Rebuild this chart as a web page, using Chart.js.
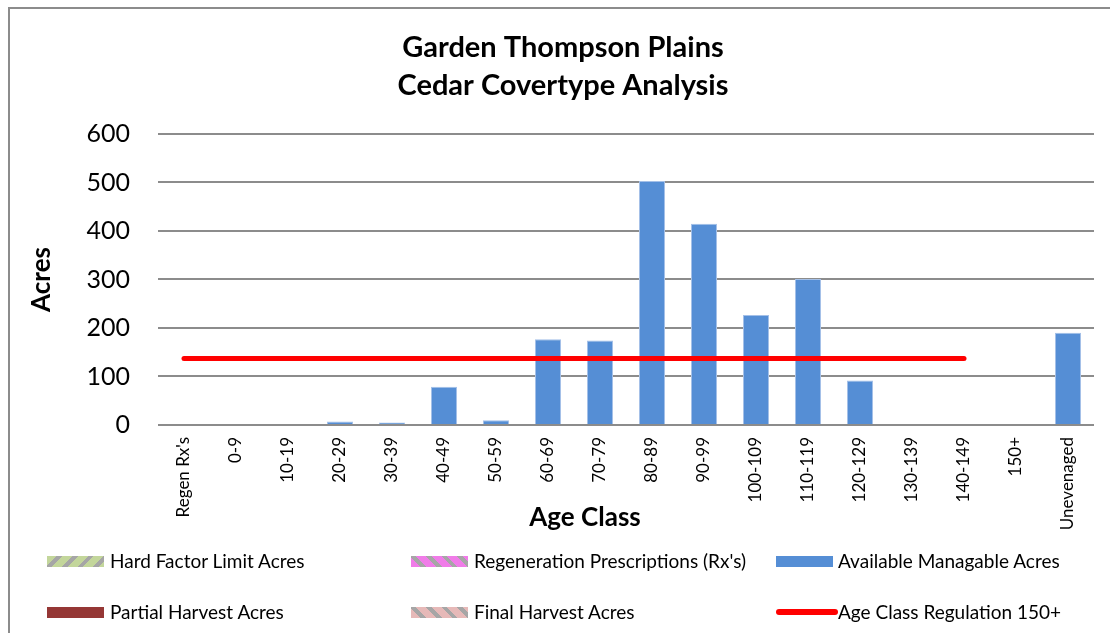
<!DOCTYPE html>
<html lang="en">
<head>
    <meta charset="UTF-8">
    <title>Garden Thompson Plains - Cedar Covertype Analysis</title>
    <script src="https://cdn.jsdelivr.net/npm/chart.js"></script>
    <style>
        html, body { margin: 0; padding: 0; width: 1110px; height: 633px; overflow: hidden; background: #fff; font-family: Lato, sans-serif; }
        .frame { position: absolute; left: 8px; top: 7px; width: 1200px; height: 700px; border: 2px solid #8c8c8c; box-sizing: border-box; }
        #wrap { position: absolute; left: 0; top: 0; width: 1110px; height: 633px; }
        .leg { position: absolute; font-size: 19px; color: #000; line-height: 22px; white-space: nowrap; }
        .sw { position: absolute; width: 57px; height: 11px; }
    </style>
</head>
<body>
    <div class="frame"></div>
    <div id="wrap"><canvas id="cedarChart"></canvas></div>

    <div class="sw" style="left:47px;top:556px;background:repeating-linear-gradient(135deg,#c3d69b 0 7px,#a6a6a6 7px 11px);"></div>
    <div class="leg" style="left:110px;top:550px;">Hard Factor Limit Acres</div>
    <div class="sw" style="left:411px;top:556px;background:repeating-linear-gradient(45deg,#f07ce8 0 7px,#a6a6a6 7px 11px);"></div>
    <div class="leg" style="left:474px;top:550px;">Regeneration Prescriptions (Rx's)</div>
    <div class="sw" style="left:776px;top:556px;background:#558ed5;"></div>
    <div class="leg" style="left:838px;top:550px;">Available Managable Acres</div>

    <div class="sw" style="left:47px;top:607px;background:#953735;"></div>
    <div class="leg" style="left:110px;top:601px;">Partial Harvest Acres</div>
    <div class="sw" style="left:411px;top:607px;background:repeating-linear-gradient(45deg,#e6b9b8 0 7px,#a6a6a6 7px 11px);"></div>
    <div class="leg" style="left:474px;top:601px;">Final Harvest Acres</div>
    <div class="sw" style="left:776px;top:609px;width:62px;height:6px;border-radius:3px;background:#ff0000;"></div>
    <div class="leg" style="left:838px;top:601px;">Age Class Regulation 150+</div>

    <script>
        const ageClasses = ["Regen Rx's", "0-9", "10-19", "20-29", "30-39", "40-49", "50-59", "60-69", "70-79",
            "80-89", "90-99", "100-109", "110-119", "120-129", "130-139", "140-149", "150+", "Unevenaged"];
        const hardFactorAcres = [0, 0, 0, 0, 0, 0, 0, 0, 0, 0, 0, 0, 0, 0, 0, 0, 0, 0];
        const regenRxAcres = [0, 0, 0, 0, 0, 0, 0, 0, 0, 0, 0, 0, 0, 0, 0, 0, 0, 0];
        const availableAcres = [0, 0, 0, 7, 5, 79, 10, 177, 174, 503, 415, 227, 301, 92, 0, 0, 0, 190];
        const partialHarvestAcres = [0, 0, 0, 0, 0, 0, 0, 0, 0, 0, 0, 0, 0, 0, 0, 0, 0, 0];
        const finalHarvestAcres = [0, 0, 0, 0, 0, 0, 0, 0, 0, 0, 0, 0, 0, 0, 0, 0, 0, 0];
        const regulation150 = [137, 137, 137, 137, 137, 137, 137, 137, 137, 137, 137, 137, 137, 137, 137, 137, null, null];
        const yTicks = [0, 100, 200, 300, 400, 500, 600];

        // x axis title sits where Excel put it, not centred on the plot
        const ageClassTitle = {
            id: "ageClassTitle",
            afterDraw(chart) {
                const ctx = chart.ctx;
                ctx.save();
                ctx.font = "bold 26px Lato";
                ctx.fillStyle = "#000";
                ctx.textAlign = "center";
                ctx.textBaseline = "middle";
                ctx.fillText("Age Class", 585, 518);
                ctx.restore();
            }
        };

        const bar = (label, data, color) => ({
            type: "bar", label, data, backgroundColor: color,
            borderColor: color, borderWidth: 0, stack: "acres", order: 1,
            barPercentage: 0.5, categoryPercentage: 1
        });

        const ctx = document.getElementById("cedarChart").getContext("2d");
        new Chart(ctx, {
            data: {
                labels: ageClasses,
                datasets: [
                    bar("Hard Factor Limit Acres", hardFactorAcres, "#c3d69b"),
                    bar("Regeneration Prescriptions (Rx's)", regenRxAcres, "#f07ce8"),
                    Object.assign(bar("Available Managable Acres", availableAcres, "#558ed5"),
                        { borderColor: "#a4c0e8", borderWidth: 1 }),
                    bar("Partial Harvest Acres", partialHarvestAcres, "#953735"),
                    bar("Final Harvest Acres", finalHarvestAcres, "#e6b9b8"),
                    {
                        type: "line", label: "Age Class Regulation 150+", data: regulation150,
                        borderColor: "#ff0000", borderWidth: 5, borderCapStyle: "round",
                        pointRadius: 0, fill: false, stack: "reg", order: 0, spanGaps: false
                    }
                ]
            },
            options: {
                responsive: true,
                maintainAspectRatio: false,
                animation: false,
                layout: { padding: { left: 32, right: 16, top: 29, bottom: 88 } },
                plugins: {
                    legend: { display: false },
                    tooltip: { enabled: false },
                    title: {
                        display: true,
                        text: ["Garden Thompson Plains", "Cedar Covertype Analysis"],
                        color: "#000",
                        font: { family: "Lato", size: 29, weight: "bold", lineHeight: 1.31 },
                        padding: { top: 0, bottom: 29 }
                    }
                },
                scales: {
                    x: {
                        stacked: true,
                        grid: { display: false, drawTicks: false },
                        border: { display: false },
                        ticks: {
                            color: "#000", font: { family: "Lato", size: 17 },
                            minRotation: 90, maxRotation: 90, autoSkip: false, padding: 12
                        },
                        afterFit(scale) { scale.height = 120; }
                    },
                    y: {
                        stacked: true,
                        min: 0, max: 600,
                        afterBuildTicks(scale) { scale.ticks = yTicks.map(v => ({ value: v })); },
                        grid: { color: "#8c8c8c", lineWidth: 2, drawTicks: false },
                        border: { display: false },
                        ticks: { color: "#000", font: { family: "Lato", size: 25 }, padding: 28 },
                        title: {
                            display: true, text: "Acres", color: "#000",
                            font: { family: "Lato", size: 26, weight: "bold" },
                            padding: { top: -6, bottom: 0 }
                        },
                        afterFit(scale) { scale.width = 126; }
                    }
                }
            },
            plugins: [ageClassTitle]
        });
    </script>
</body>
</html>
